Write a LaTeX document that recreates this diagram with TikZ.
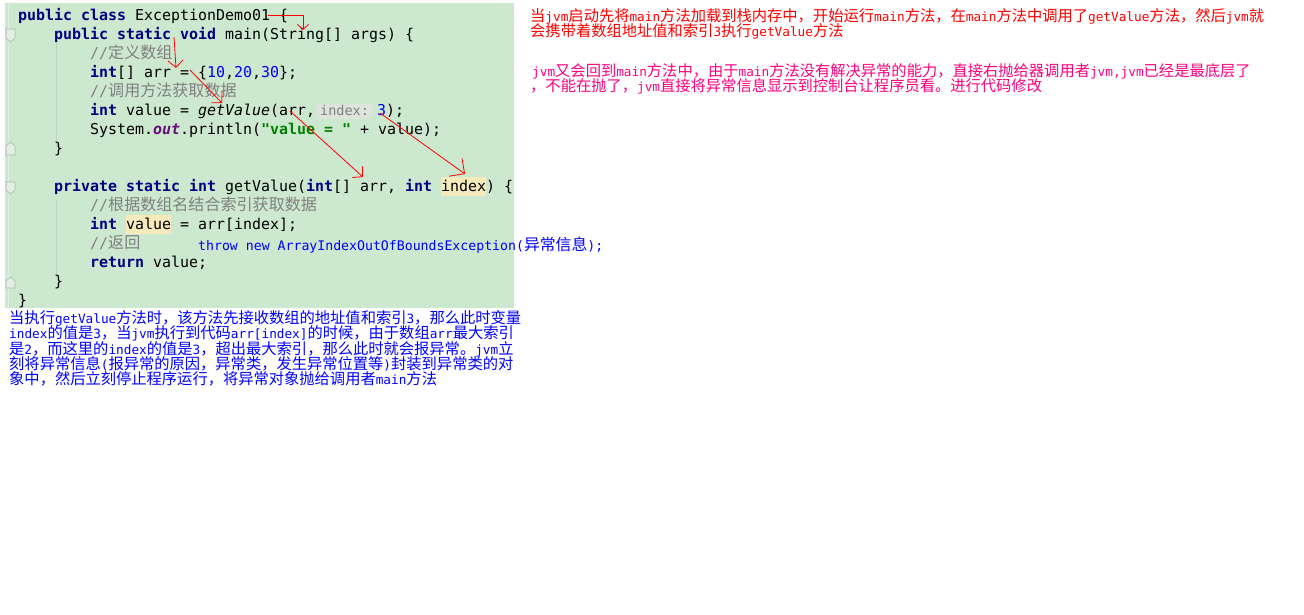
\documentclass[tikz,border=0pt]{standalone}
\usepackage{fontspec}
\usetikzlibrary{arrows.meta}
\newfontfamily\codefam{DejaVu Sans Mono}
\newfontfamily\notefam{DejaVu Sans Mono}
\newfontfamily\cjkcode[Scale=1.074]{Noto Sans CJK SC}
\newfontfamily\cjknote[Scale=1.2]{Noto Sans CJK SC}
\makeatletter
\newif\ifin@cjk
\let\cjkcur\cjknote
\def\tocjk{\ifin@cjk\else\edef\saved@fam{\f@family}\in@cjktrue\cjkcur\fi}
\def\fromcjk{\ifin@cjk\in@cjkfalse\fontfamily{\saved@fam}\selectfont\fi}
\makeatother
\XeTeXinterchartokenstate=1
\newXeTeXintercharclass\cjkclass
\count255="3000
\loop\XeTeXcharclass\count255=\cjkclass \ifnum\count255<"303F \advance\count255 by 1 \repeat
\count255="4E00
\loop\XeTeXcharclass\count255=\cjkclass \ifnum\count255<"9FFF \advance\count255 by 1 \repeat
\count255="FF00
\loop\XeTeXcharclass\count255=\cjkclass \ifnum\count255<"FFEF \advance\count255 by 1 \repeat
\XeTeXinterchartoks 0 \cjkclass = {\tocjk}
\XeTeXinterchartoks 4095 \cjkclass = {\tocjk}
\XeTeXinterchartoks \cjkclass 0 = {\fromcjk}
\XeTeXinterchartoks \cjkclass 4095 = {\fromcjk}
\definecolor{bggreen}{RGB}{204,232,207}
\definecolor{gutterc}{RGB}{222,240,224}
\definecolor{guidec}{RGB}{190,210,192}
\definecolor{foldc}{RGB}{170,185,172}
\definecolor{foldfill}{RGB}{226,240,228}
\definecolor{kwc}{RGB}{0,0,128}
\definecolor{numc}{RGB}{0,0,255}
\definecolor{comc}{RGB}{128,128,128}
\definecolor{strc}{RGB}{0,128,0}
\definecolor{outc}{RGB}{102,14,122}
\definecolor{hlc}{RGB}{246,234,188}
\definecolor{hintbg}{RGB}{220,228,220}
\definecolor{hintfg}{RGB}{128,128,128}
\definecolor{notered}{RGB}{255,0,0}
\definecolor{notepink}{RGB}{255,0,128}
\definecolor{noteblue}{RGB}{0,0,255}
\newcommand{\jkw}[1]{{\color{kwc}\bfseries #1}}
\newcommand{\jnum}[1]{{\color{numc}#1}}
\newcommand{\jcom}[1]{{\color{comc}#1}}
\newcommand{\jstr}[1]{{\color{strc}\bfseries #1}}
\newcommand{\jout}[1]{{\color{outc}\bfseries\itshape #1}}
\newcommand{\jhl}[1]{{\setlength{\fboxsep}{0pt}\colorbox{hlc}{\rule[-5pt]{0pt}{19pt}#1}}}
\tikzset{
  code/.style={anchor=base west, inner sep=0pt, font={\codefam\fontsize{14.95}{19}\selectfont\let\cjkcur\cjkcode}},
  note/.style={anchor=base west, inner sep=0pt, font={\notefam\fontsize{12.73}{16}\selectfont\let\cjkcur\cjknote}},
  thrownote/.style={anchor=base west, inner sep=0pt, font={\notefam\fontsize{13.2}{16}\selectfont\let\cjkcur\cjknote}},
  hint/.style={anchor=base west, inner sep=0pt, text=hintfg, font={\codefam\fontsize{13.5}{16}\selectfont}},
  parrow/.style={draw=red, line width=0.8pt, -{Straight Barb[length=7pt,width=15pt]}},
  fold/.style={draw=foldc, fill=foldfill, line width=0.6pt}
}
\begin{document}
\begin{tikzpicture}[x=1pt,y=-1pt]
\useasboundingbox (0,0) rectangle (1304,614);
\fill[white] (0,0) rectangle (1304,614);
% editor background
\fill[bggreen] (5,3) rectangle (514,308);
\draw[gutterc, line width=1.4pt] (8.5,3) -- (8.5,308);
\draw[guidec, line width=0.7pt] (56.5,43) -- (56.5,147);
\draw[guidec, line width=0.7pt] (56.5,200) -- (56.5,277);
% fold markers
\draw[fold] (6,29) -- (15,29) -- (15,38) -- (10.5,42) -- (6,38) -- cycle;
\draw[fold] (6,155) -- (15,155) -- (15,146) -- (10.5,142) -- (6,146) -- cycle;
\draw[fold] (6,182) -- (15,182) -- (15,190) -- (10.5,194) -- (6,190) -- cycle;
\draw[fold] (6,288) -- (15,288) -- (15,281) -- (10.5,277) -- (6,281) -- cycle;
% inlay hint background
\fill[hintbg, rounded corners=3pt] (316,104) rectangle (373,119);
% code lines
\node[code] (c1) at (18,20) {\jkw{public class} ExceptionDemo01 \{};
\node[code] (c2) at (54,39) {\jkw{public static void} main(String[] args) \{};
\node[code] (c3) at (90,58) {\jcom{//定义数组}};
\node[code] (c4) at (90,77) {\jkw{int}[] arr = \{\jnum{10},\jnum{20},\jnum{30}\};};
\node[code] (c5) at (90,96) {\jcom{//调用方法获取数据}};
\node[code] (c6) at (90,115) {\jkw{int} value = \textit{getValue}(arr,};
\node[hint] (hint) at (320,115) {index:};
\node[code] (c6b) at (377,115) {\jnum{3});};
\node[code] (c7) at (90,134) {System.\jout{out}.println(\jstr{"value = "} + value);};
\node[code] (c8) at (54,153) {\}};
\node[code] (c10) at (54,191) {\jkw{private static int} getValue(\jkw{int}[] arr, \jkw{int} \jhl{index}) \{};
\node[code] (c11) at (90,210) {\jcom{//根据数组名结合索引获取数据}};
\node[code] (c12) at (90,229) {\jkw{int} \jhl{value} = arr[index];};
\node[code] (c13) at (90,248) {\jcom{//返回}};
\node[code] (c14) at (90,267) {\jkw{return} value;};
\node[code] (c15) at (54,286) {\}};
\node[code] (c16) at (18,305) {\}};
\node[thrownote, text=noteblue] (throw) at (198,250) {throw new ArrayIndexOutOfBoundsException(异常信息);};
% red notes
\node[note, text=notered] (r1) at (530,21) {当jvm启动先将main方法加载到栈内存中，开始运行main方法，在main方法中调用了getValue方法，然后jvm就};
\node[note, text=notered] (r2) at (530,36) {会携带着数组地址值和索引3执行getValue方法};
% pink notes
\node[note, text=notepink] (p1) at (532,76) {jvm又会回到main方法中，由于main方法没有解决异常的能力，直接右抛给器调用者jvm,jvm已经是最底层了};
\node[note, text=notepink] (p2) at (530,91) {，不能在抛了，jvm直接将异常信息显示到控制台让程序员看。进行代码修改};
% blue notes
\node[note, text=noteblue] (b1) at (9,323) {当执行getValue方法时，该方法先接收数组的地址值和索引3，那么此时变量};
\node[note, text=noteblue] (b2) at (9,338.5) {index的值是3，当jvm执行到代码arr[index]的时候，由于数组arr最大索引};
\node[note, text=noteblue] (b3) at (9,354) {是2，而这里的index的值是3，超出最大索引，那么此时就会报异常。jvm立};
\node[note, text=noteblue] (b4) at (9,369) {刻将异常信息(报异常的原因，异常类，发生异常位置等)封装到异常类的对};
\node[note, text=noteblue] (b5) at (9,384.5) {象中，然后立刻停止程序运行，将异常对象抛给调用者main方法};
% arrows
\coordinate (a1s) at (268,15);
\coordinate (a1e) at (303,30);
\coordinate (a2s) at (174,37);
\coordinate (a2e) at (176,68);
\coordinate (a3s) at (190,70);
\coordinate (a3e) at (222,103);
\coordinate (a4s) at (290,111);
\coordinate (a4e) at (363,177);
\coordinate (a5s) at (380,113);
\coordinate (a5e) at (465,174);
\draw[draw=red, line width=0.8pt, -{Straight Barb[length=5pt,width=11pt]}] (a1s) -| (a1e);
\draw[parrow] (a2s) -- (a2e);
\draw[parrow] (a3s) -- (a3e);
\draw[parrow] (a4s) -- (a4e);
\draw[draw=red, line width=0.8pt, -{Straight Barb[length=11pt,width=22pt]}] (a5s) -- (a5e);
\end{tikzpicture}
\end{document}
